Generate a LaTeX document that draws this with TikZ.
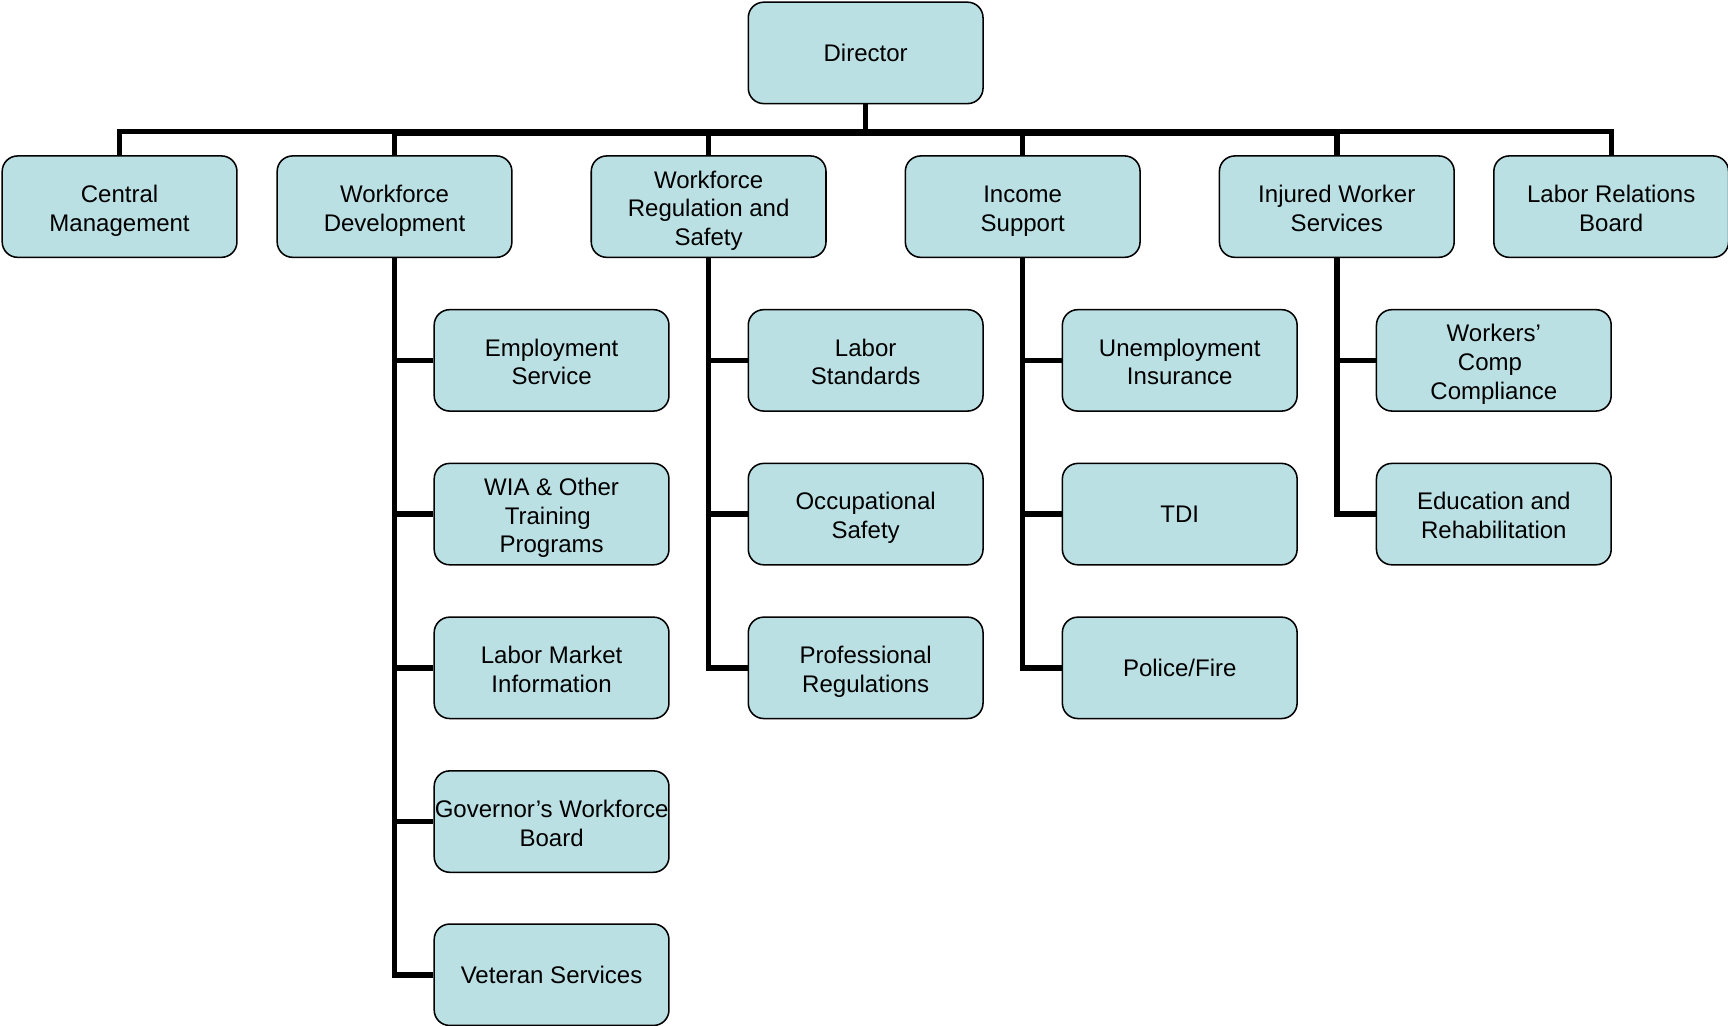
\documentclass[tikz,border=0pt]{standalone}
\usepackage{fontspec}
\setmainfont{Liberation Sans}
\definecolor{boxfill}{RGB}{187,224,228}
\newcommand\mlbox[1]{\raisebox{-4pt}[\height][\depth]{\begin{tabular}{@{}c@{}}#1\end{tabular}}}
\begin{document}
\begin{tikzpicture}[x=1pt,y=-1pt,
  box/.style={draw=black, line width=1.4pt, fill=boxfill, rounded corners=14pt,
    minimum width=213pt, minimum height=92pt, inner sep=0pt, align=center,
    font=\fontsize{21.8}{26}\selectfont},
  conn/.style={line width=5pt, line join=miter},
  busline/.style={line width=4.6pt, line join=miter}]
\useasboundingbox (0,0) rectangle (1568,931);
\coordinate (bus) at (785.5,119.3);
\coordinate (wdx) at (358,120);
\coordinate (iwx) at (1213,120);
% nodes
\node[box] (dir) at (785.5,48) {Director};
\node[box] (cm)  at (108.5,187.5) {\mlbox{Central\\Management}};
\node[box] (wd)  at (358,187.5) {\mlbox{Workforce\\Development}};
\node[box] (wrs) at (643,187.5) {\mlbox{Workforce\\Regulation and\\Safety}};
\node[box] (is)  at (928,187.5) {\mlbox{Income\\Support}};
\node[box] (iws) at (1213,187.5) {\mlbox{Injured Worker\\Services}};
\node[box] (lrb) at (1462,187.5) {\mlbox{Labor Relations\\Board}};
% Workforce Development children
\node[box] (es)  at (500.5,327) {\mlbox{Employment\\Service}};
\node[box] (wia) at (500.5,466.5) {\mlbox{WIA \& Other\\Training\kern7pt\mbox{}\\Programs}};
\node[box] (lmi) at (500.5,606) {\mlbox{Labor Market\\Information}};
\node[box] (gwb) at (500.5,745.5) {\mlbox{Governor’s Workforce\\Board}};
\node[box] (vs)  at (500.5,884.5) {Veteran Services};
% WRS children
\node[box] (ls)  at (785.5,327) {\mlbox{Labor\\Standards}};
\node[box] (os)  at (785.5,466.5) {\mlbox{Occupational\\Safety}};
\node[box] (pr)  at (785.5,606) {\mlbox{Professional\\Regulations}};
% Income Support children
\node[box] (ui)  at (1070.5,327) {\mlbox{Unemployment\\Insurance}};
\node[box] (tdi) at (1070.5,466.5) {TDI};
\node[box] (pf)  at (1070.5,606) {Police/Fire};
% IWS children
\node[box] (wcc) at (1355.5,327) {\mlbox{Workers’\\Comp\kern7pt\mbox{}\\Compliance}};
\node[box] (er)  at (1355.5,466.5) {\mlbox{Education and\\Rehabilitation}};
% bus and drops
\draw[conn] (dir.south) -- (bus);
\draw[busline] (cm.north) -- (cm.north |- bus) -- (lrb.north |- bus) -- (lrb.north);
\draw[line width=6pt] (wdx) -- (iwx);
\draw[conn] (wd.north) -- (wdx);
\draw[conn] (wrs.north) -- (wrs.north |- bus);
\draw[conn] (is.north) -- (is.north |- bus);
\draw[conn] (iws.north) -- (iwx);
% child trees
\draw[conn] (wd.south) |- (vs.west);
\draw[conn] (wd.south |- es.west) -- (es.west);
\draw[conn] (wd.south |- wia.west) -- (wia.west);
\draw[conn] (wd.south |- lmi.west) -- (lmi.west);
\draw[conn] (wd.south |- gwb.west) -- (gwb.west);
\draw[conn] (wrs.south) |- (pr.west);
\draw[conn] (wrs.south |- ls.west) -- (ls.west);
\draw[conn] (wrs.south |- os.west) -- (os.west);
\draw[conn] (is.south) |- (pf.west);
\draw[conn] (is.south |- ui.west) -- (ui.west);
\draw[conn] (is.south |- tdi.west) -- (tdi.west);
\draw[conn] (iws.south) |- (er.west);
\draw[conn] (iws.south |- wcc.west) -- (wcc.west);
\end{tikzpicture}
\end{document}
